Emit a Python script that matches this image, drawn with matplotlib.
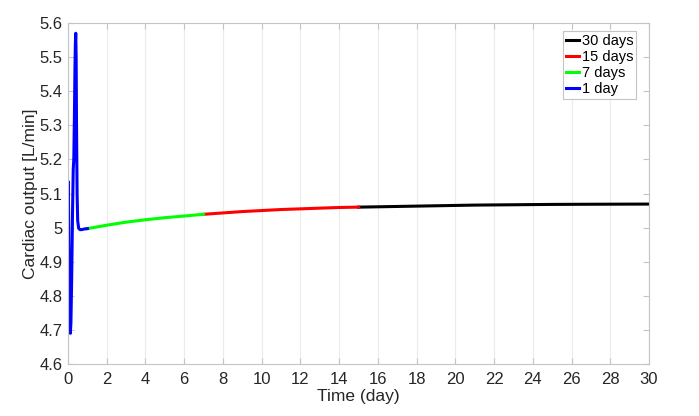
import matplotlib.pyplot as plt

plt.rcParams['font.family'] = ['Liberation Sans', 'DejaVu Sans']

# 1 day run (blue)
t_1day = [0.0, 0.005, 0.01, 0.03, 0.06, 0.09, 0.12, 0.15, 0.19, 0.23, 0.27, 0.30,
          0.33, 0.36, 0.38, 0.40, 0.42, 0.44, 0.47, 0.50, 0.55, 0.62, 0.70, 0.85, 1.0]
co_1day = [4.96, 5.07, 5.135, 5.05, 4.86, 4.73, 4.69, 4.72, 4.85, 5.03, 5.17, 5.20,
           5.32, 5.47, 5.54, 5.57, 5.50, 5.30, 5.10, 5.02, 4.998, 4.994, 4.994, 4.996, 4.997]

# 7 day run (green), from day 1
t_7day = [1, 2, 3, 4, 5, 6, 7]
co_7day = [4.997, 5.007, 5.016, 5.023, 5.029, 5.034, 5.039]

# 15 day run (red), from day 7
t_15day = [7, 8, 9, 10, 11, 12, 13, 14, 15]
co_15day = [5.039, 5.043, 5.047, 5.050, 5.053, 5.055, 5.057, 5.059, 5.060]

# 30 day run (black), from day 15
t_30day = [15, 17, 19, 21, 23, 25, 27, 30]
co_30day = [5.060, 5.062, 5.064, 5.066, 5.067, 5.068, 5.0685, 5.069]

fig = plt.figure(figsize=(6.99, 4.16), dpi=100)
ax = fig.add_axes([68 / 699, 52 / 416, 581 / 699, 341 / 416])

lw = 2.2
ax.plot(t_30day, co_30day, color='black', lw=lw, label='30 days')
ax.plot(t_15day, co_15day, color='red', lw=lw, label='15 days')
ax.plot(t_7day, co_7day, color='#00ff00', lw=lw, label='7 days')
ax.plot(t_1day, co_1day, color='blue', lw=lw, label='1 day')

ax.set_xlim(0, 30)
ax.set_ylim(4.6, 5.6)
ax.set_xticks(range(0, 31, 2))
ax.set_yticks([4.6 + 0.1 * i for i in range(11)])
ax.set_yticklabels(['4.6', '4.7', '4.8', '4.9', '5', '5.1', '5.2', '5.3', '5.4', '5.5', '5.6'])
ax.grid(axis='x', color='#ebebeb', lw=0.8)
ax.set_axisbelow(True)

for s in ax.spines.values():
    s.set_color('#c4c4c4')
    s.set_linewidth(0.8)
ax.tick_params(direction='in', length=4, color='#c4c4c4', labelsize=12,
               labelcolor='#262626', right=True, top=True, pad=4)
ax.tick_params(axis='x', pad=6)

ax.set_xlabel('Time (day)', fontsize=12.5, color='#262626', labelpad=1)
ax.set_ylabel('Cardiac output [L/min]', fontsize=12.5, color='#262626', labelpad=1)

leg = ax.legend(loc='upper right', bbox_to_anchor=(0.978, 0.977), borderaxespad=0,
                fontsize=10.5, handlelength=0.9, handletextpad=0.15, borderpad=0.2,
                labelspacing=0.15, fancybox=False, framealpha=1)
leg.get_frame().set_edgecolor('#c4c4c4')
leg.get_frame().set_linewidth(0.8)

fig.savefig('out.png', dpi=100)
